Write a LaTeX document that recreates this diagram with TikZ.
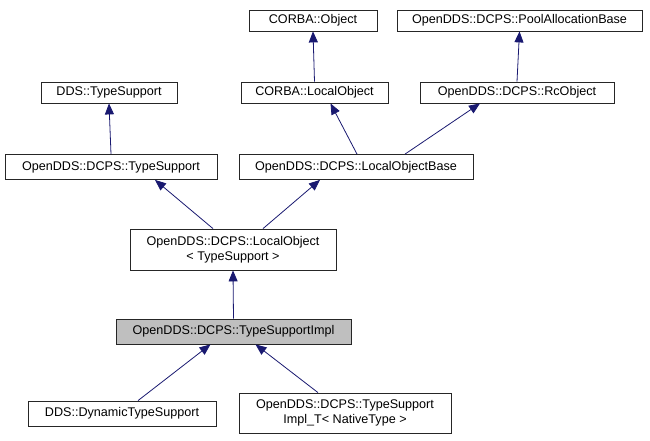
\documentclass[tikz,border=0pt]{standalone}
\usepackage{fontspec}
\setmainfont{Liberation Sans}
\usetikzlibrary{arrows.meta}
\definecolor{edgeblue}{RGB}{25,25,112}
\begin{document}
\begin{tikzpicture}
[
x=1pt, y=-1pt,
every node/.style={font=\fontsize{12.6}{14.5}\selectfont},
Box/.style={rectangle,draw=black!85,fill=white,thick,inner sep=0pt,align=center},
Current/.style={Box,fill=black!25},
Edge/.style={draw=edgeblue,thick,-{Triangle[width=9pt,length=11pt]}},
]
\useasboundingbox (0,0) rectangle (650,440);

\node[Box,minimum width=128pt,minimum height=21pt] (corbaobj) at (313,20.5) {CORBA::Object};
\node[Box,minimum width=245pt,minimum height=21pt] (pool) at (519.5,20.5) {OpenDDS::DCPS::PoolAllocationBase};
\node[Box,minimum width=136pt,minimum height=21pt] (ddsts) at (109,92.5) {DDS::TypeSupport};
\node[Box,minimum width=147pt,minimum height=21pt] (corbalo) at (314.5,92.5) {CORBA::LocalObject};
\node[Box,minimum width=194pt,minimum height=21pt] (rc) at (517,92.5) {OpenDDS::DCPS::RcObject};
\node[Box,minimum width=212pt,minimum height=25pt] (dcpsts) at (111,167) {OpenDDS::DCPS::TypeSupport};
\node[Box,minimum width=234pt,minimum height=25pt] (lob) at (356,167) {OpenDDS::DCPS::LocalObjectBase};
\node[Box,minimum width=206pt,minimum height=41pt] (lo) at (233,249.5) {OpenDDS::DCPS::LocalObject\\\textless{} TypeSupport \textgreater{}};
\node[Current,minimum width=235pt,minimum height=25pt] (impl) at (233.5,331.5) {OpenDDS::DCPS::TypeSupportImpl};
\node[Box,minimum width=188pt,minimum height=25pt] (dyn) at (122,413.5) {DDS::DynamicTypeSupport};
\node[Box,minimum width=212pt,minimum height=40pt] (implt) at (345,413) {OpenDDS::DCPS::TypeSupport\\Impl\_T\textless{} NativeType \textgreater{}};

% inheritance edges, arrow at the base class
\draw[Edge] (corbalo.north) -- (corbaobj.south);
\draw[Edge] (rc.north) -- (pool.south);
\draw[Edge] (dcpsts.north) -- (ddsts.south);
\draw[Edge] ([xshift=1pt]lob.north) -- ([xshift=16pt]corbalo.south);
\draw[Edge] ([xshift=49pt]lob.north) -- ([xshift=-37pt]rc.south);
\draw[Edge] ([xshift=-20pt]lo.north) -- ([xshift=44pt]dcpsts.south);
\draw[Edge] ([xshift=30pt]lo.north) -- ([xshift=-36pt]lob.south);
\draw[Edge] (impl.north) -- (lo.south);
\draw[Edge] ([xshift=16pt]dyn.north) -- ([xshift=-23pt]impl.south);
\draw[Edge] ([xshift=-27pt]implt.north) -- ([xshift=22pt]impl.south);

\end{tikzpicture}
\end{document}
